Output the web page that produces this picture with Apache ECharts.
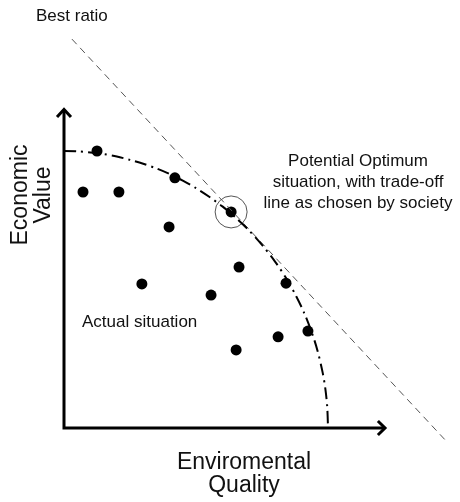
<!DOCTYPE html>
<html>
<head>
<meta charset="utf-8">
<script src="https://cdn.jsdelivr.net/npm/echarts@6/dist/echarts.min.js"></script>
<style>html,body{margin:0;padding:0;background:#fff}#c{width:460px;height:502px}</style>
</head>
<body>
<div id="c"></div>
<script>
// Scattered "actual situation" points (x: environmental quality, y: economic value)
const dotsX = [12.5, 7.2, 20.8, 42.0, 39.8, 66.3, 29.5, 55.7, 84.1, 92.4, 81.1, 65.2];
const dotsY = [100, 85.2, 85.2, 90.3, 72.6, 58.1, 52.0, 48.0, 52.3, 35.0, 32.9, 28.2];
// Potential optimum point
const optimumX = [63.3];
const optimumY = [78.0];
// Production possibility frontier
const frontierX = [0, 5, 10, 15, 20, 25, 30, 35, 40, 45, 50, 55, 60, 65, 70, 75, 80, 84, 88, 91, 94, 96, 98, 99, 99.7, 100];
const frontierY = [100, 99.9, 99.5, 98.9, 98.0, 96.8, 95.4, 93.7, 91.7, 89.3, 86.6, 83.5, 80.0, 76.0, 71.4, 66.1, 60.0, 54.3, 47.5, 41.5, 34.1, 28.0, 19.9, 14.1, 7.7, 0];
// "Best ratio" trade-off line end points
const bestX = [3.0, 145.1];
const bestY = [140.4, -5.05];
// Axis lines and arrow heads
const yAxisX = [0, 0, 121.6];
const yAxisY = [114.8, 0, 0];
const upArrowX = [-2.65, 0, 2.65];
const upArrowY = [112.3, 115.0, 112.3];
const rightArrowX = [118.9, 121.6, 118.9];
const rightArrowY = [2.53, 0, -2.53];

const zip = (xs, ys) => xs.map((x, i) => [x, ys[i]]);
const FONT = '"Liberation Sans", Arial, sans-serif';

const chart = echarts.init(document.getElementById('c'), null, {renderer: 'canvas'});
chart.setOption({
  animation: false,
  backgroundColor: '#fff',
  grid: {left: 37.6, right: 0, top: 12.5, bottom: 46.3, outerBoundsMode: 'none', containLabel: false},
  xAxis: {type: 'value', min: -10, max: 150, show: false},
  yAxis: {type: 'value', min: -10, max: 150, show: false},
  series: [
    {type: 'line', data: zip(bestX, bestY), symbol: 'none', clip: false, silent: true,
     lineStyle: {color: '#555', width: 1, type: [7, 5]}},
    {type: 'line', data: zip(frontierX, frontierY), symbol: 'none', clip: false, smooth: 0.3,
     lineStyle: {color: '#000', width: 2, type: [12, 5, 2, 5]}},
    {type: 'line', data: zip(yAxisX, yAxisY), symbol: 'none', clip: false,
     lineStyle: {color: '#000', width: 3, join: 'miter', cap: 'butt'}},
    {type: 'line', data: zip(upArrowX, upArrowY), symbol: 'none', clip: false,
     lineStyle: {color: '#000', width: 3, join: 'miter'}},
    {type: 'line', data: zip(rightArrowX, rightArrowY), symbol: 'none', clip: false,
     lineStyle: {color: '#000', width: 3, join: 'miter'}},
    {type: 'scatter', data: zip(dotsX, dotsY), symbol: 'circle', symbolSize: 11, clip: false,
     itemStyle: {color: '#000', opacity: 1}},
    {type: 'scatter', data: zip(optimumX, optimumY), symbol: 'circle', symbolSize: 11, clip: false,
     itemStyle: {color: '#000', opacity: 1}},
    {type: 'scatter', data: zip(optimumX, optimumY), symbol: 'circle', symbolSize: 32, clip: false,
     itemStyle: {color: 'rgba(0,0,0,0)', borderColor: '#555', borderWidth: 1, opacity: 1}}
  ],
  graphic: [
    {type: 'text', x: 36, y: 16, style: {text: 'Best ratio', font: '17px ' + FONT, fill: '#111', textVerticalAlign: 'middle'}},
    {type: 'text', x: 358, y: 182, style: {text: 'Potential Optimum\nsituation, with trade-off\nline as chosen by society', font: '17px ' + FONT, lineHeight: 21, fill: '#111', textAlign: 'center', textVerticalAlign: 'middle'}},
    {type: 'text', x: 82, y: 322, style: {text: 'Actual situation', font: '17px ' + FONT, fill: '#111', textVerticalAlign: 'middle'}},
    {type: 'text', x: 32, y: 195, rotation: Math.PI / 2, style: {text: 'Economic\nValue', font: '23px ' + FONT, lineHeight: 23, fill: '#111', textAlign: 'center', textVerticalAlign: 'middle'}},
    {type: 'text', x: 244, y: 474, style: {text: 'Enviromental\nQuality', font: '23px ' + FONT, lineHeight: 23, fill: '#111', textAlign: 'center', textVerticalAlign: 'middle'}}
  ]
});
</script>
</body>
</html>
